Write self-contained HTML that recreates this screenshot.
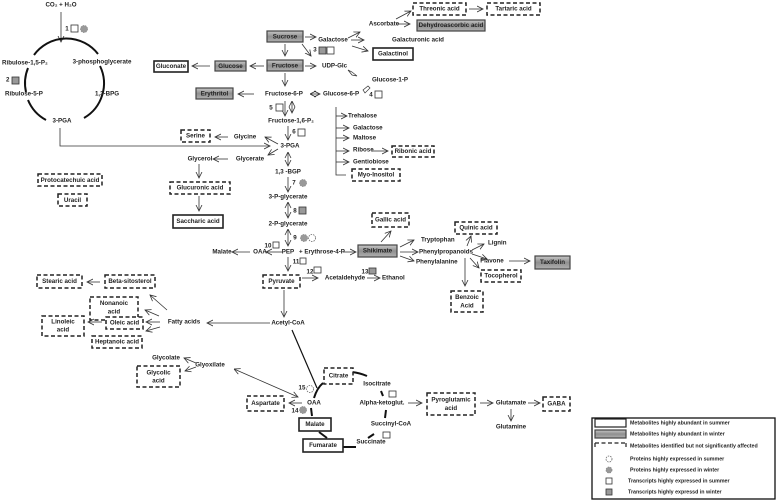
<!DOCTYPE html>
<html><head><meta charset="utf-8"><style>
html,body{margin:0;padding:0;background:#fff}
svg{display:block}
text{font-family:"Liberation Sans",sans-serif;font-size:6.2px;font-weight:bold;fill:#222;text-anchor:middle;dominant-baseline:middle}
.l{text-anchor:start}
.w{fill:#fff;stroke:#222;stroke-width:1.6}
.g{fill:url(#gr);stroke:#444;stroke-width:1.2}
.d{fill:#fff;stroke:#222;stroke-width:1.5;stroke-dasharray:4 2.5}
.a{stroke:#333;stroke-width:0.8;fill:none;marker-end:url(#ah)}
.b{stroke:#333;stroke-width:0.8;fill:none;marker-end:url(#ah);marker-start:url(#as)}
.t{stroke:#111;stroke-width:2;fill:none}
.sq{fill:#fff;stroke:#333;stroke-width:0.8}
.sg{fill:#999;stroke:#333;stroke-width:0.8}
.pc{fill:#999;stroke:#888;stroke-width:0.8;stroke-dasharray:1.5 1}
.pd{fill:#fff;stroke:#666;stroke-width:0.8;stroke-dasharray:1.5 1}
</style></head><body>
<svg width="778" height="501" viewBox="0 0 778 501" xmlns="http://www.w3.org/2000/svg">
<defs>
<linearGradient id="gr" x1="0" y1="0" x2="0" y2="1"><stop offset="0" stop-color="#c8c8c8"/><stop offset="0.5" stop-color="#8f8f8f"/><stop offset="1" stop-color="#b0b0b0"/></linearGradient>
<marker id="ah" markerWidth="7" markerHeight="7" refX="6" refY="3.5" orient="auto" markerUnits="userSpaceOnUse"><path d="M0,0.5 L6,3.5 L0,6.5" fill="none" stroke="#333" stroke-width="0.8"/></marker>
<marker id="as" markerWidth="7" markerHeight="7" refX="0" refY="3.5" orient="auto" markerUnits="userSpaceOnUse"><path d="M6,0.5 L0,3.5 L6,6.5" fill="none" stroke="#333" stroke-width="0.8"/></marker>
</defs>

<!-- Calvin cycle -->
<text x="61" y="5">CO₂ + H₂O</text>
<path class="a" d="M61,12 L61,42"/>
<text x="67" y="29">1</text><rect class="sq" x="71" y="25" width="7" height="7"/><circle class="pc" cx="84" cy="29" r="3.5"/>
<path class="t" d="M34,55 A40,40 0 0 1 98,54"/>
<path class="t" d="M100,66 A40,40 0 0 1 84,118"/>
<path class="t" d="M28,68 A40,40 0 0 0 26,92"/>
<path class="t" d="M28,100 A40,40 0 0 0 46,120"/>
<text x="2" y="63" class="l">Ribulose-1,5-P₂</text>
<text x="102" y="62">3-phosphoglycerate</text>
<text x="6" y="80" class="l">2</text><rect class="sg" x="12" y="77" width="7" height="7"/>
<text x="5" y="94" class="l">Ribulose-5-P</text>
<text x="107" y="94">1,3-BPG</text>
<text x="62" y="121">3-PGA</text>
<path class="a" d="M60,128 L60,146 L270,146"/>
<text x="70" y="181" style="display:none"></text>
<rect class="d" x="38" y="174" width="64" height="12"/><text x="70" y="180.5">Protocatechuic acid</text>
<rect class="d" x="58" y="194" width="29" height="12"/><text x="72.5" y="200.5">Uracil</text>

<!-- sugars -->
<rect class="g" x="267" y="31" width="36" height="11"/><text x="285" y="37">Sucrose</text>
<rect class="g" x="267" y="60" width="36" height="11"/><text x="285" y="66">Fructose</text>
<rect class="g" x="215" y="61" width="31" height="10"/><text x="230.5" y="66.5">Glucose</text>
<rect class="w" x="154" y="61" width="34" height="11"/><text x="171" y="66.5">Gluconate</text>
<rect class="g" x="196" y="88" width="37" height="11"/><text x="214.5" y="94">Erythritol</text>
<path class="a" d="M285,44 L285,56"/>
<path class="a" d="M264,66 L250,66"/>
<path class="a" d="M210,66 L192,66"/>
<path class="a" d="M285,73 L285,86"/>
<path class="a" d="M254,94 L238,94"/>
<path class="a" d="M305,37 L316,37"/>
<path class="a" d="M302,44 L311,56"/>
<path class="a" d="M305,66 L316,66"/>
<text x="315" y="50">3</text><rect class="sg" x="319" y="47" width="7" height="7"/><rect class="sq" x="327" y="47" width="7" height="7"/>
<text x="333" y="40">Galactose</text>
<text x="322" y="66" class="l">UDP-Glc</text>
<text x="390" y="80">Glucose-1-P</text>
<path d="M348,70 L352,72 L357,76 L352,75 Z" fill="#fff" stroke="#333" stroke-width="0.7"/>
<text x="265" y="94" class="l">Fructose-6-P</text>
<path class="b" d="M310,94 L320,94"/>
<text x="323" y="94" class="l">Glucose-6-P</text>
<path d="M363,90 L368,86 L370,88 L365,93 Z" fill="#fff" stroke="#333" stroke-width="0.7"/>
<text x="371" y="95">4</text><rect class="sq" x="375" y="91" width="7" height="7"/>
<path class="a" d="M348,38 L360,32"/>
<path class="a" d="M351,40 L364,40"/>
<path class="a" d="M352,46 L368,51"/>
<text x="384" y="24">Ascorbate</text>
<path class="a" d="M397,24 L410,24"/>
<path class="a" d="M396,19 L411,11"/>
<text x="418" y="40">Galacturonic acid</text>
<rect class="w" x="373" y="48" width="40" height="12"/><text x="393" y="54">Galactinol</text>
<rect class="d" x="413" y="3" width="53" height="12"/><text x="439.5" y="9">Threonic acid</text>
<path class="a" d="M469,9 L483,9"/>
<rect class="d" x="487" y="3" width="53" height="12"/><text x="513.5" y="9">Tartaric acid</text>
<rect class="g" x="417" y="20" width="68" height="11"/><text x="451" y="25.5">Dehydroascorbic acid</text>

<!-- branch list -->
<path d="M336,107 L336,175 L346,175" stroke="#333" stroke-width="0.8" fill="none"/>
<path class="a" d="M336,116 L347,116"/><text x="348" y="116" class="l">Trehalose</text>
<path class="a" d="M336,128 L349,128"/><text x="353" y="128" class="l">Galactose</text>
<path class="a" d="M336,138 L349,138"/><text x="353" y="138" class="l">Maltose</text>
<path class="a" d="M336,151 L349,151"/><text x="353" y="150" class="l">Ribose</text>
<path class="a" d="M372,151 L388,151"/>
<rect class="d" x="392" y="146" width="42" height="11"/><text x="413" y="151.5">Ribonic acid</text>
<path class="a" d="M336,162 L349,162"/><text x="353" y="162" class="l">Gentiobiose</text>
<rect class="d" x="352" y="169" width="48" height="12"/><text x="376" y="175">Myo-Inositol</text>

<!-- glycolysis -->
<path class="b" d="M292,101 L292,113"/>
<path class="a" d="M285,101 L285,116"/>
<text x="271" y="108">5</text><rect class="sq" x="276" y="104" width="7" height="7"/>
<text x="291" y="121">Fructose-1,6-P₂</text>
<path class="a" d="M288,126 L288,140"/>
<text x="294" y="132">6</text><rect class="sq" x="298" y="129" width="7" height="7"/>
<text x="290" y="146">3-PGA</text>
<path class="a" d="M278,144 L265,137"/>
<path class="a" d="M278,149 L268,155"/>
<text x="245" y="137">Glycine</text>
<path class="a" d="M228,137 L215,137"/>
<rect class="d" x="181" y="130" width="29" height="12"/><text x="195.5" y="136">Serine</text>
<text x="250" y="159">Glycerate</text>
<path class="a" d="M228,159 L213,159"/>
<text x="200" y="159">Glycerol</text>
<path class="a" d="M199,164 L199,178"/>
<rect class="d" x="170" y="182" width="60" height="12"/><text x="200" y="188">Glucuronic acid</text>
<path class="a" d="M199,196 L199,211"/>
<rect class="w" x="173" y="215" width="50" height="13"/><text x="198" y="221.5">Saccharic acid</text>
<path class="b" d="M288,152 L288,166"/>
<text x="288" y="172">1,3 -BGP</text>
<path class="a" d="M288,177 L288,192"/>
<text x="294" y="183">7</text><circle class="pc" cx="303" cy="183" r="3.5"/>
<text x="288" y="197">3-P-glycerate</text>
<path class="b" d="M288,202 L288,218"/>
<text x="295" y="211">8</text><rect class="sg" x="299" y="207" width="7" height="7"/>
<text x="288" y="224">2-P-glycerate</text>
<path class="b" d="M288,229 L288,246"/>
<text x="295" y="238">9</text><circle class="pc" cx="304" cy="238" r="3.5"/><circle class="pd" cx="312" cy="238" r="3.5"/>
<text x="268" y="246">10</text><rect class="sq" x="273" y="242" width="6" height="6"/>
<text x="288" y="252">PEP</text>
<text x="322" y="252">+ Erythrose-4-P</text>
<path class="a" d="M282,252 L266,252"/>
<text x="260" y="252">OAA</text>
<path class="a" d="M250,252 L232,252"/>
<text x="222" y="252">Malate</text>
<path class="a" d="M343,252 L356,252"/>
<rect class="g" x="358" y="245" width="39" height="12"/><text x="377.5" y="251">Shikimate</text>
<path class="a" d="M288,257 L288,271"/>
<text x="296" y="262">11</text><rect class="sq" x="300" y="258" width="6" height="6"/>
<rect class="d" x="263" y="275" width="37" height="13"/><text x="281.5" y="281.5">Pyruvate</text>
<text x="310" y="272">12</text><rect class="sq" x="314" y="267" width="7" height="6"/>
<path class="a" d="M302,278 L318,278"/>
<text x="345" y="278">Acetaldehyde</text>
<text x="365" y="272">13</text><rect class="sg" x="369" y="268" width="7" height="6"/>
<path class="a" d="M367,278 L380,278"/>
<text x="382" y="278" class="l">Ethanol</text>
<path class="a" d="M284,290 L284,317"/>
<text x="288" y="323">Acetyl-CoA</text>
<path class="a" d="M270,323 L207,323"/>
<text x="184" y="322">Fatty acids</text>

<!-- shikimate branches -->
<path class="a" d="M381,242 L391,231"/>
<rect class="d" x="372" y="213" width="37" height="14"/><text x="390.5" y="220">Gallic acid</text>
<path class="a" d="M400,247 L414,240"/>
<text x="421" y="240" class="l">Tryptophan</text>
<path class="a" d="M400,252 L418,252"/>
<text x="419" y="252" class="l">Phenylpropanoids</text>
<path class="a" d="M400,256 L414,261"/>
<text x="416" y="262" class="l">Phenylalanine</text>
<path class="a" d="M467,246 L471,236"/>
<rect class="d" x="455" y="222" width="42" height="12"/><text x="476" y="228">Quinic acid</text>
<path class="a" d="M472,250 L484,244"/>
<text x="488" y="243" class="l">Lignin</text>
<path class="a" d="M472,254 L487,259"/>
<text x="492" y="261">Flavone</text>
<path class="a" d="M509,261 L530,261"/>
<rect class="g" x="535" y="256" width="35" height="13"/><text x="552.5" y="262.5">Taxifolin</text>
<path class="a" d="M470,258 L479,268"/>
<rect class="d" x="481" y="270" width="40" height="12"/><text x="501" y="276">Tocopherol</text>
<path class="a" d="M465,258 L465,286"/>
<rect class="d" x="451" y="291" width="32" height="21"/><text x="467" y="297.5">Benzoic</text><text x="467" y="306">Acid</text>

<!-- fatty acids -->
<path class="a" d="M167,310 L150,295"/>
<rect class="d" x="105" y="275" width="50" height="13"/><text x="130" y="281.5">Beta-sitosterol</text>
<path class="a" d="M100,282 L87,282"/>
<rect class="d" x="37" y="275" width="45" height="13"/><text x="59.5" y="281.5">Stearic acid</text>
<path class="a" d="M159,316 L145,310"/>
<rect class="d" x="90" y="297" width="48" height="23"/><text x="114" y="303.5">Nonanoic</text><text x="114" y="312">acid</text>
<path class="a" d="M160,322 L146,322"/>
<rect class="d" x="106" y="317" width="37" height="12"/><text x="124.5" y="323">Oleic acid</text>
<path class="a" d="M102,322 L88,322"/>
<rect class="d" x="42" y="316" width="42" height="20"/><text x="63" y="322">Linoleic</text><text x="63" y="330">acid</text>
<path class="a" d="M160,327 L146,331"/>
<rect class="d" x="92" y="336" width="50" height="12"/><text x="117" y="342">Heptanoic acid</text>

<!-- glyoxylate -->
<text x="166" y="358">Glycolate</text>
<path class="a" d="M196,363 L184,358"/>
<text x="210" y="365">Glyoxilate</text>
<path class="a" d="M196,367 L185,371"/>
<rect class="d" x="137" y="366" width="43" height="21"/><text x="158.5" y="373">Glycolic</text><text x="158.5" y="381">acid</text>
<path class="b" d="M234,369 L298,397"/>

<!-- TCA -->
<path d="M292,330 L317,388" stroke="#111" stroke-width="1.2" fill="none"/>
<path class="t" d="M314,398 Q317,388 323,383"/>
<path class="t" d="M352,372 Q360,373 367,376"/>
<path class="t" d="M381,391 L383,396"/>
<path class="t" d="M386,410 L385,418"/>
<path class="t" d="M374,434 L368,438"/>
<path class="t" d="M343,447 L356,447"/>
<path class="t" d="M319,432 L327,438"/>
<path class="t" d="M311,408 L312,416"/>
<rect class="d" x="324" y="368" width="29" height="16"/><text x="338.5" y="376">Citrate</text>
<text x="377" y="384">Isocitrate</text>
<rect class="sq" x="389" y="391" width="7" height="6"/>
<text x="382" y="403">Alpha-ketoglut.</text>
<text x="391" y="424">Succinyl-CoA</text>
<rect class="sq" x="383" y="432" width="7" height="6"/>
<text x="371" y="442">Succinate</text>
<rect class="w" x="303" y="439" width="40" height="13"/><text x="323" y="445.5">Fumarate</text>
<rect class="w" x="299" y="418" width="32" height="13"/><text x="315" y="424.5">Malate</text>
<text x="314" y="403">OAA</text>
<path class="a" d="M302,403 L289,403"/>
<rect class="d" x="247" y="396" width="37" height="15"/><text x="265.5" y="403.5">Aspartate</text>
<text x="302" y="388">15</text><circle class="pd" cx="310" cy="389" r="3.5"/>
<text x="295" y="411">14</text><circle class="pc" cx="303" cy="410" r="3.5"/>
<path class="a" d="M408,403 L422,403"/>
<rect class="d" x="427" y="393" width="48" height="22"/><text x="451" y="400">Pyroglutamic</text><text x="451" y="408.5">acid</text>
<path class="a" d="M480,403 L493,403"/>
<text x="511" y="403">Glutamate</text>
<path class="a" d="M528,403 L540,403"/>
<rect class="d" x="543" y="397" width="27" height="14"/><text x="556.5" y="404">GABA</text>
<path class="a" d="M511,409 L511,421"/>
<text x="511" y="427">Glutamine</text>

<!-- legend -->
<rect x="592" y="418" width="183" height="81" fill="#fff" stroke="#111" stroke-width="1.3"/>
<rect class="w" x="595" y="419" width="31" height="8" style="stroke-width:1.2"/>
<text x="630" y="423" class="l" style="font-size:5.3px">Metabolites highly abundant in summer</text>
<rect class="g" x="595" y="430" width="31" height="8"/>
<text x="630" y="434" class="l" style="font-size:5.3px">Metabolites highly abundant in winter</text>
<path d="M595,443 L626,443 M595,443 L595,449 M626,443 L626,449" class="d" style="fill:none;stroke-width:1.2"/>
<text x="630" y="446" class="l" style="font-size:5.3px">Metabolites identified but not significantly affected</text>
<circle class="pd" cx="609" cy="459" r="3"/>
<text x="630" y="459" class="l" style="font-size:5.3px">Proteins  highly expressed in summer</text>
<circle class="pc" cx="609" cy="470" r="3"/>
<text x="630" y="470" class="l" style="font-size:5.3px">Proteins highly expressed in winter</text>
<rect class="sq" x="606" y="478" width="6" height="6"/>
<text x="628" y="481" class="l" style="font-size:5.3px">Transcripts highly expressed in summer</text>
<rect class="sg" x="606" y="489" width="6" height="6"/>
<text x="628" y="492" class="l" style="font-size:5.3px">Transcripts highly expressd in winter</text>
</svg>
</body></html>
